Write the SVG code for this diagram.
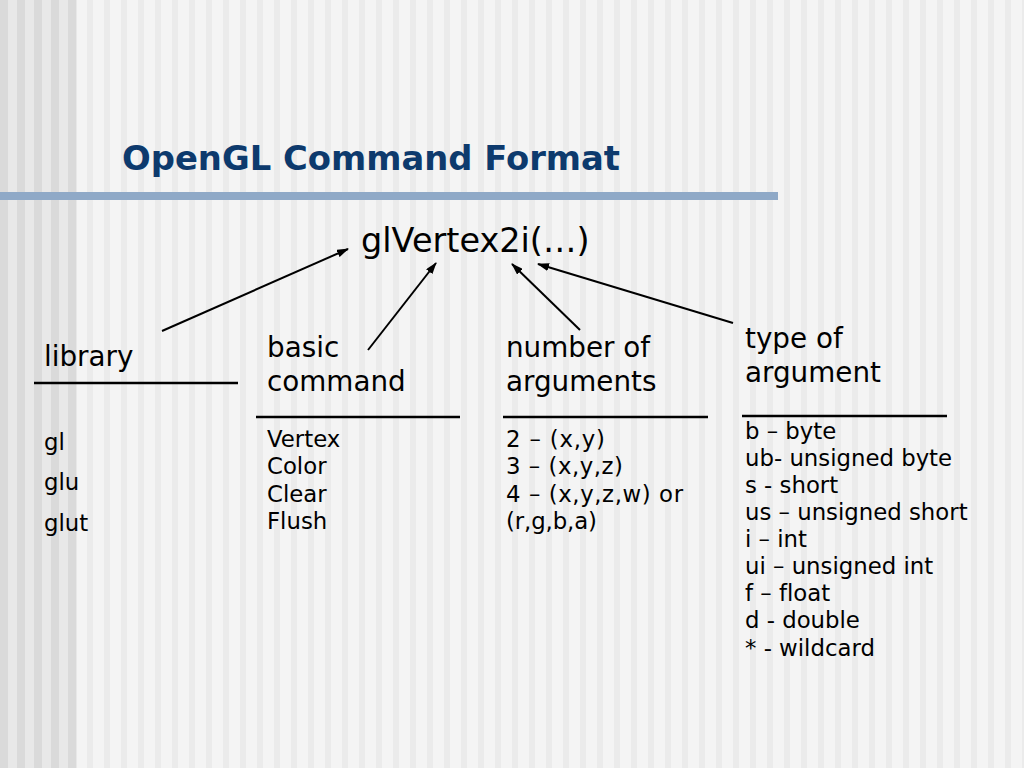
<svg xmlns="http://www.w3.org/2000/svg" width="1024" height="768" viewBox="0 0 1024 768">
<defs>
<pattern id="stripesL" x="0" y="0" width="17" height="768" patternUnits="userSpaceOnUse">
<rect width="17" height="768" fill="#e8e8e8"/>
<rect x="0" width="8" height="768" fill="#dadada"/>
</pattern>
<pattern id="stripesR" x="0" y="0" width="17" height="768" patternUnits="userSpaceOnUse">
<rect width="17" height="768" fill="#f4f4f4"/>
<rect x="2" width="6" height="768" fill="#ebebeb"/>
</pattern>
<marker id="ah" markerWidth="12" markerHeight="8" refX="11" refY="4" orient="auto" markerUnits="userSpaceOnUse">
<path d="M0,0 L12,4 L0,8 Z" fill="#000"/>
</marker>
</defs>
<style>
.t{font-family:"DejaVu Sans","Verdana",sans-serif;fill:#000;font-variant-ligatures:none}
.lab{font-size:27.8px}
.item{font-size:22.8px}
.ul{stroke:#000;stroke-width:2.5}
.arr{stroke:#000;stroke-width:2;fill:none;marker-end:url(#ah)}
</style>
<rect width="1024" height="768" fill="url(#stripesR)"/>
<rect width="77" height="768" fill="url(#stripesL)"/>
<rect x="0" y="192" width="778" height="8" fill="#8fa9c7"/>
<text x="122" y="170" font-family="DejaVu Sans, Verdana, sans-serif" font-weight="bold" font-size="33" fill="#0d3a6d" textLength="498" lengthAdjust="spacingAndGlyphs">OpenGL Command Format</text>

<g id="command">
<text class="t" x="361" y="252" font-size="33.5">glVertex2i(…)</text>
</g>

<g id="library">
<text class="t lab" x="44" y="366">library</text>
<line class="ul" x1="34" y1="383" x2="238" y2="383"/>
<text class="t item" x="44" y="450">gl</text>
<text class="t item" x="44" y="490">glu</text>
<text class="t item" x="44" y="531">glut</text>
</g>

<g id="basic">
<text class="t lab" x="267" y="357">basic</text>
<text class="t lab" x="267" y="391">command</text>
<line class="ul" x1="256" y1="417" x2="460" y2="417"/>
<text class="t item" x="267" y="447">Vertex</text>
<text class="t item" x="267" y="474">Color</text>
<text class="t item" x="267" y="502">Clear</text>
<text class="t item" x="267" y="529">Flush</text>
</g>

<g id="numargs">
<text class="t lab" x="506" y="357">number of</text>
<text class="t lab" x="506" y="391">arguments</text>
<line class="ul" x1="503" y1="417" x2="708" y2="417"/>
<text class="t item" x="506" y="447" textLength="99">2 – (x,y)</text>
<text class="t item" x="506" y="474" textLength="117">3 – (x,y,z)</text>
<text class="t item" x="506" y="502" textLength="177">4 – (x,y,z,w) or</text>
<text class="t item" x="506" y="529" textLength="91">(r,g,b,a)</text>
</g>

<g id="argtype">
<text class="t lab" x="745" y="348">type of</text>
<text class="t lab" x="745" y="382">argument</text>
<line class="ul" x1="742" y1="416" x2="947" y2="416"/>
<text class="t item" x="745" y="439">b – byte</text>
<text class="t item" x="745" y="466">ub- unsigned byte</text>
<text class="t item" x="745" y="493">s - short</text>
<text class="t item" x="745" y="520">us – unsigned short</text>
<text class="t item" x="745" y="547">i – int</text>
<text class="t item" x="745" y="574">ui – unsigned int</text>
<text class="t item" x="745" y="601">f – float</text>
<text class="t item" x="745" y="628">d - double</text>
<text class="t item" x="745" y="656">* - wildcard</text>
</g>

<g id="connectors">
<line class="arr" x1="162" y1="331" x2="348" y2="249"/>
<line class="arr" x1="368" y1="350" x2="436" y2="263"/>
<line class="arr" x1="580" y1="330" x2="512" y2="264"/>
<line class="arr" x1="733" y1="323" x2="538" y2="264"/>
</g>
</svg>
